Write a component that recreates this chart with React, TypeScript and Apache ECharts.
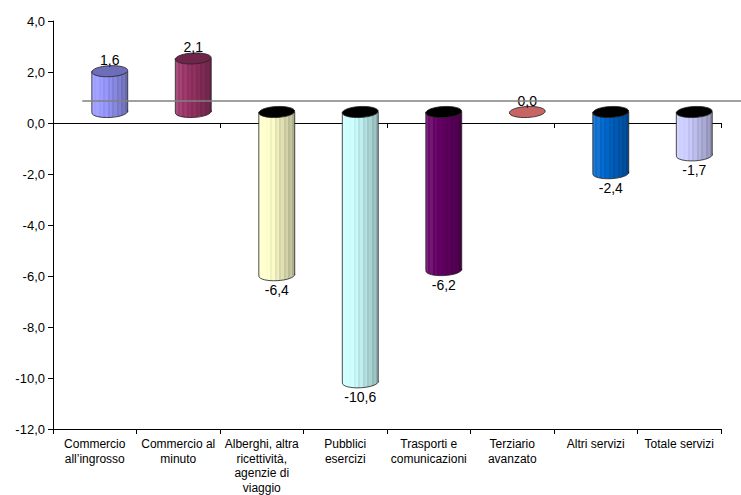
import React, { useEffect, useRef } from "react";
import * as echarts from "echarts";

const categories = [
  "Commercio\nall’ingrosso",
  "Commercio al\nminuto",
  "Alberghi, altra\nricettività,\nagenzie di\nviaggio",
  "Pubblici\nesercizi",
  "Trasporti e\ncomunicazioni",
  "Terziario\navanzato",
  "Altri servizi",
  "Totale servizi",
];
const values = [1.6, 2.1, -6.4, -10.6, -6.2, 0.0, -2.4, -1.7];
const barColors = ["#9999FF", "#993366", "#FFFFCC", "#CCFFFF", "#660066", "#FF8080", "#0066CC", "#CCCCFF"];
const yMin = -12;
const yMax = 4;
const yInterval = 2;

const FONT = "'Liberation Sans', Arial, sans-serif";

function hexToRgb(h: string) {
  const n = parseInt(h.slice(1), 16);
  return [(n >> 16) & 255, (n >> 8) & 255, n & 255];
}
function shade(h: string, f: number) {
  const [r, g, b] = hexToRgb(h);
  const m = (c: number) =>
    Math.max(0, Math.min(255, Math.round(f >= 1 ? c + (255 - c) * (f - 1) : c * f)));
  return `rgb(${m(r)},${m(g)},${m(b)})`;
}
function stripeStops(h: string) {
  const stops: { offset: number; color: string }[] = [];
  const N = 16;
  for (let i = 0; i < N; i++) {
    const t0 = i / N;
    const t1 = (i + 1) / N;
    const tm = (t0 + t1) / 2;
    const f = 1.12 - 0.42 * tm + (i % 2 === 0 ? 0.035 : -0.035);
    const c = shade(h, f);
    stops.push({ offset: t0, color: c });
    stops.push({ offset: t1, color: c });
  }
  return stops;
}
const fmt = (v: number) => v.toFixed(1).replace(".", ",");

export default function App() {
  const ref = useRef<HTMLDivElement>(null);
  useEffect(() => {
    if (!ref.current) return;
    const chart = echarts.init(ref.current, undefined, { renderer: "svg" });
    const stroke = "#222";
    const option: any = {
      animation: false,
      backgroundColor: "#ffffff",
      grid: { left: 53, right: 20, top: 21, bottom: 66, containLabel: false },
      xAxis: [
        {
          type: "category",
          data: categories,
          position: "bottom",
          axisLine: { onZero: false, lineStyle: { color: "#000", width: 1 } },
          axisTick: { show: true, length: 5, lineStyle: { color: "#000" } },
          axisLabel: {
            interval: 0,
            fontSize: 12,
            lineHeight: 14.5,
            color: "#000",
            fontFamily: FONT,
            margin: 8,
          },
          splitLine: { show: false },
        },
        {
          type: "category",
          data: categories,
          position: "top",
          axisLine: { onZero: true, lineStyle: { color: "#000", width: 1 } },
          axisTick: { show: true, inside: true, length: 5, lineStyle: { color: "#000" } },
          axisLabel: { show: false },
          splitLine: { show: false },
        },
      ],
      yAxis: {
        type: "value",
        min: yMin,
        max: yMax,
        interval: yInterval,
        axisLine: { show: true, lineStyle: { color: "#000", width: 1 } },
        axisTick: { show: true, length: 5, lineStyle: { color: "#000" } },
        axisLabel: {
          formatter: (v: number) => fmt(v),
          fontSize: 13,
          color: "#000",
          fontFamily: FONT,
          margin: 8,
        },
        splitLine: { show: false },
      },
      series: [
        {
          type: "custom",
          xAxisIndex: 0,
          yAxisIndex: 0,
          encode: { x: 0, y: 1 },
          data: values.map((v, i) => [i, v]),
          renderItem: (params: any, api: any) => {
            const idx = params.dataIndex;
            const v = api.value(1);
            const c = api.coord([api.value(0), 0]);
            const cv = api.coord([api.value(0), v]);
            const band = api.size([1, 0])[0];
            const dx = band * 0.18;
            const dy = -11;
            const rx = band * 0.215;
            const ry = 5.5;
            const tilt = 0.05;
            const bx = c[0] + dx;
            const yBase = c[1] + dy;
            const yVal = cv[1] + dy;
            const top = Math.min(yBase, yVal);
            const bottom = Math.max(yBase, yVal);
            const color = barColors[idx];
            const children: any[] = [];
            if (v === 0) {
              children.push({
                type: "ellipse",
                x: bx,
                y: yBase,
                rotation: tilt,
                shape: { cx: 0, cy: 0, rx, ry },
                style: { fill: shade(color, 0.78), stroke: stroke, lineWidth: 0.8 },
              });
            } else {
              children.push({
                type: "ellipse",
                x: bx,
                y: bottom,
                rotation: tilt,
                shape: { cx: 0, cy: 0, rx, ry },
                style: {
                  fill: new echarts.graphic.LinearGradient(0, 0, 1, 0, stripeStops(color)),
                  stroke: stroke,
                  lineWidth: 0.8,
                },
              });
              children.push({
                type: "rect",
                shape: { x: bx - rx, y: top, width: 2 * rx, height: bottom - top },
                style: { fill: new echarts.graphic.LinearGradient(0, 0, 1, 0, stripeStops(color)) },
              });
              children.push({
                type: "line",
                shape: { x1: bx - rx, y1: top, x2: bx - rx, y2: bottom },
                style: { stroke: stroke, lineWidth: 0.8 },
              });
              children.push({
                type: "line",
                shape: { x1: bx + rx, y1: top, x2: bx + rx, y2: bottom },
                style: { stroke: stroke, lineWidth: 0.8 },
              });
              children.push({
                type: "ellipse",
                x: bx,
                y: top,
                rotation: tilt,
                shape: { cx: 0, cy: 0, rx, ry },
                style: { fill: v > 0 ? shade(color, 0.72) : "#000", stroke: stroke, lineWidth: 0.8 },
              });
            }
            children.push({
              type: "text",
              x: bx,
              y: v >= 0 ? top - 11.5 : bottom + 15,
              style: {
                text: fmt(v),
                fontSize: 14,
                fontFamily: FONT,
                fill: "#000",
                align: "center",
                verticalAlign: "middle",
              },
            });
            if (idx === 0) {
              const x0 = c[0] - band / 2 + band * 0.35;
              children.push({
                type: "line",
                z2: 100,
                shape: { x1: x0, y1: c[1] - 22, x2: api.getWidth(), y2: c[1] - 22 },
                style: { stroke: "#808080", lineWidth: 1.5 },
              });
            }
            return { type: "group", children };
          },
        },
      ],
    };
    chart.setOption(option);
    return () => chart.dispose();
  }, []);
  return (
    <div
      ref={ref}
      style={{ position: "absolute", left: 0, top: 0, width: 741, height: 495 }}
    />
  );
}
